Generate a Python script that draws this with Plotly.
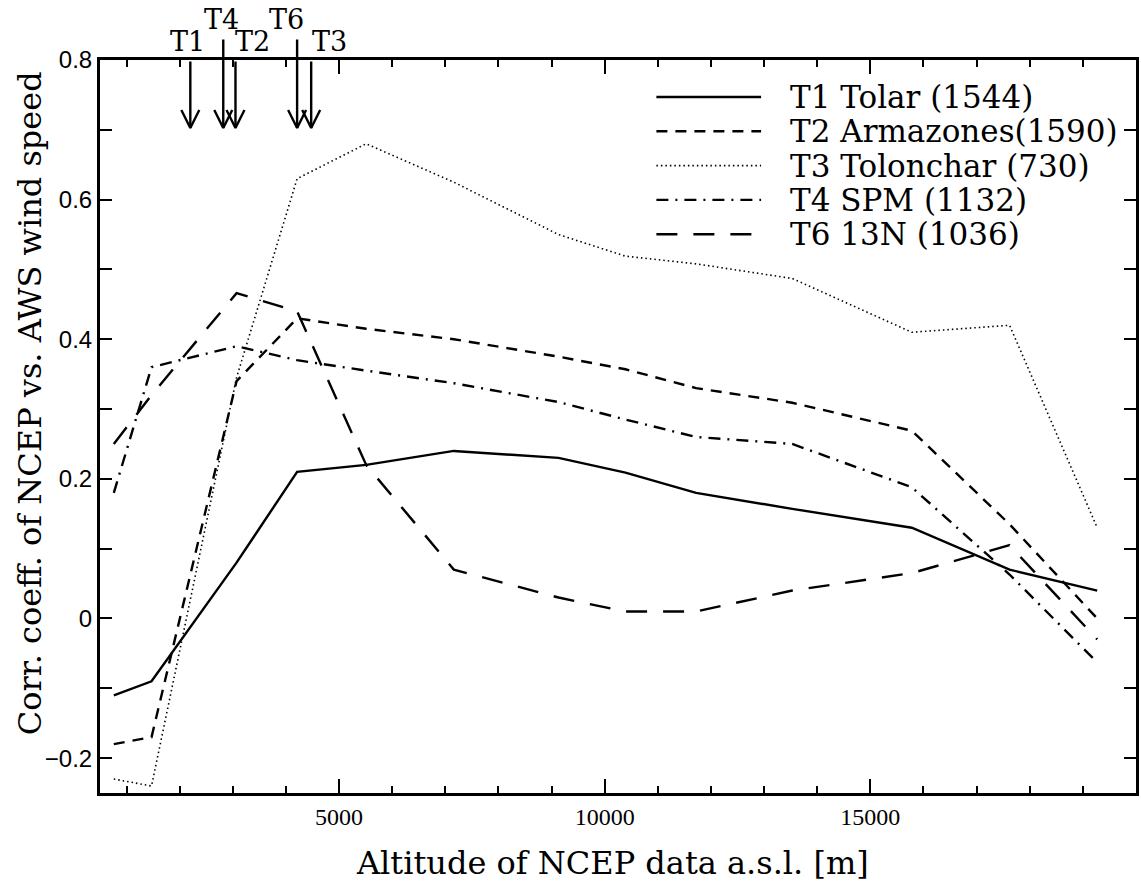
import plotly.graph_objects as go

# ---------------- data ----------------
altitude = [760, 1470, 3070, 4210, 5510, 7160, 9130, 10390, 11720, 13530, 15780, 17620, 19270]
t1_tolar = [-0.11, -0.09, 0.08, 0.21, 0.22, 0.24, 0.23, 0.209, 0.18, 0.157, 0.13, 0.07, 0.04]
t2_armazones = [-0.18, -0.17, 0.34, 0.43, 0.415, 0.40, 0.375, 0.357, 0.33, 0.309, 0.269, 0.135, 0.0]
t3_tolonchar = [-0.23, -0.24, 0.345, 0.63, 0.68, 0.625, 0.55, 0.519, 0.508, 0.487, 0.41, 0.42, 0.13]
t4_spm = [0.18, 0.36, 0.39, 0.37, 0.355, 0.337, 0.31, 0.285, 0.26, 0.25, 0.188, 0.063, -0.063]
t6_13n = [0.25, 0.32, 0.466, 0.44, 0.22, 0.07, 0.03, 0.01, 0.01, 0.04, 0.065, 0.105, -0.03]

series_names = ["T1 Tolar (1544)", "T2 Armazones(1590)", "T3 Tolonchar (730)",
                "T4 SPM (1132)", "T6 13N (1036)"]

site_labels = ["T1", "T4", "T2", "T6", "T3"]
site_altitude = [2200, 2820, 3050, 4210, 4475]

x_tickvals = [5000, 10000, 15000]
x_ticktext = ["5000", "10000", "15000"]
y_tickvals = [-0.2, 0, 0.2, 0.4, 0.6, 0.8]
y_ticktext = ["\u22120.2", "0", "0.2", "0.4", "0.6", "0.8"]

# ---------------- styles ----------------
SERIF = "DejaVu Serif"
styles = [
    dict(dash="solid", width=2.4),
    dict(dash="11px,8px", width=2.4),
    dict(dash="1.5px,3px", width=1.6),
    dict(dash="12px,7px,2px,7px", width=2.4),
    dict(dash="21px,16px", width=2.4),
]
# arrow label offsets (px) and whether the arrow shaft starts above the frame
label_style = {
    "T1": dict(dx=-3, dy=19, high=False),
    "T4": dict(dx=-2, dy=41, high=True),
    "T2": dict(dx=17, dy=19, high=False),
    "T6": dict(dx=-11, dy=41, high=True),
    "T3": dict(dx=18, dy=19, high=False),
}

X_RANGE = [500, 20000]
Y_RANGE = [-0.25, 0.8]
W, H = 1141, 882
ML, MR, MT, MB = 100, 2, 60, 89
px_x = (X_RANGE[1] - X_RANGE[0]) / (W - ML - MR)   # data units per pixel (x)
px_y = (Y_RANGE[1] - Y_RANGE[0]) / (H - MT - MB)   # data units per pixel (y)

fig = go.Figure()

all_series = [t1_tolar, t2_armazones, t3_tolonchar, t4_spm, t6_13n]
for name, vals, st in zip(series_names, all_series, styles):
    fig.add_trace(go.Scatter(
        x=altitude, y=vals, mode="lines", name=name, showlegend=False,
        line=dict(color="black", width=st["width"], dash=st["dash"]),
    ))

# ---------------- site arrows ----------------
tip_y = Y_RANGE[1] - 68 * px_y
head_h = 18 * px_y
head_w = 9 * px_x
vx, vy = [], []
for lab, alt in zip(site_labels, site_altitude):
    vx += [alt - head_w, alt, alt + head_w, None]
    vy += [tip_y + head_h, tip_y, tip_y + head_h, None]
    s = label_style[lab]
    top = Y_RANGE[1] + (22 * px_y if s["high"] else 0)
    fig.add_annotation(x=alt, y=tip_y, ax=alt, ay=top, xref="x", yref="y",
                       axref="x", ayref="y", text="", showarrow=True,
                       arrowhead=0, arrowwidth=2.4, arrowcolor="black",
                       standoff=0, startstandoff=0)
    fig.add_annotation(x=alt, y=Y_RANGE[1], xref="x", yref="y", text=lab,
                       showarrow=False, xshift=s["dx"], yshift=s["dy"],
                       font=dict(family=SERIF, size=27, color="black"))
fig.add_trace(go.Scatter(x=vx, y=vy, mode="lines", showlegend=False,
                         line=dict(color="black", width=2.4)))

# ---------------- manual legend ----------------
row0, row_step = 97, 34.3
for i, (name, st) in enumerate(zip(series_names, styles)):
    ypix = row0 + i * row_step
    yp = (H - MB - ypix) / (H - MT - MB)
    fig.add_shape(type="line", xref="paper", yref="paper",
                  x0=(658 - ML) / (W - ML - MR), x1=(763 - ML) / (W - ML - MR),
                  y0=yp, y1=yp,
                  line=dict(color="black", width=st["width"], dash=st["dash"]))
    fig.add_annotation(x=(790 - ML) / (W - ML - MR), y=yp, xref="paper", yref="paper",
                       text=name, showarrow=False, xanchor="left", yanchor="middle",
                       font=dict(family=SERIF, size=31, color="black"))

# ---------------- axis titles ----------------
fig.add_annotation(x=(614 - ML) / (W - ML - MR), y=-(863 - (H - MB)) / (H - MT - MB),
                   xref="paper", yref="paper", text="Altitude of NCEP data a.s.l. [m]",
                   showarrow=False, xanchor="center", yanchor="middle",
                   font=dict(family=SERIF, size=32, color="black"))
fig.add_annotation(x=(30 - ML) / (W - ML - MR), y=(H - MB - 403) / (H - MT - MB),
                   xref="paper", yref="paper", text="Corr. coeff. of NCEP vs. AWS wind speed",
                   showarrow=False, textangle=-90, xanchor="center", yanchor="middle",
                   font=dict(family=SERIF, size=32, color="black"))

fig.update_xaxes(range=X_RANGE, showgrid=False, zeroline=False,
                 showline=True, linecolor="black", linewidth=3, mirror="allticks",
                 ticks="inside", ticklen=14, tickwidth=2, tickcolor="black",
                 tickvals=x_tickvals, ticktext=x_ticktext,
                 tickfont=dict(family="Liberation Sans Narrow, Liberation Serif", size=24, color="black"),
                 minor=dict(dtick=1000, tick0=0, ticks="inside", ticklen=7,
                            tickwidth=2, tickcolor="black", showgrid=False))
fig.update_yaxes(range=Y_RANGE, showgrid=False, zeroline=False,
                 showline=True, linecolor="black", linewidth=3, mirror="allticks",
                 ticks="inside", ticklen=12, tickwidth=2, tickcolor="black",
                 tickvals=y_tickvals, ticktext=y_ticktext,
                 tickfont=dict(family="Liberation Sans", size=24, color="black"),
                 minor=dict(dtick=0.1, tick0=0, ticks="inside", ticklen=12,
                            tickwidth=2, tickcolor="black", showgrid=False))

fig.update_layout(width=W, height=H, margin=dict(l=ML, r=MR, t=MT, b=MB),
                  paper_bgcolor="white", plot_bgcolor="white", showlegend=False,
                  hovermode=False)

fig.write_html("out.html", config={"displayModeBar": False, "staticPlot": True},
               post_script="document.body.style.margin='0px';document.body.style.overflow='hidden';")
